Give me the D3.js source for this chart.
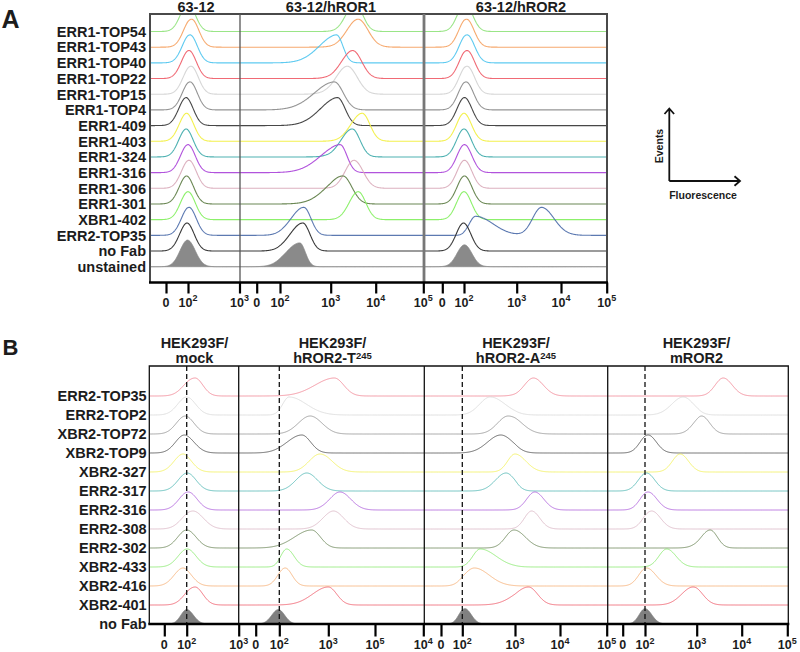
<!DOCTYPE html>
<html><head><meta charset="utf-8">
<script src="https://cdn.jsdelivr.net/npm/d3@7"></script>
<style>
body{margin:0;background:#fff}
svg{display:block}
text{font-family:"Liberation Sans",Arial,Helvetica,sans-serif;font-weight:bold;fill:#1c1c1c}
</style>
</head><body>
<svg id="chart" width="800" height="652"></svg>
<script>
// ---------------- DATA ----------------
const rowsA = ["ERR1-TOP54","ERR1-TOP43","ERR1-TOP40","ERR1-TOP22","ERR1-TOP15","ERR1-TOP4","ERR1-409","ERR1-403","ERR1-324","ERR1-316","ERR1-306","ERR1-301","XBR1-402","ERR2-TOP35","no Fab","unstained"];
const colorsA = ["#8fe27a","#f5a05e","#4cc4ee","#ee5a66","#d2d2d2","#8a8a8a","#333333","#f2ee3a","#3aa8a8","#a840d8","#d8a8b8","#5a7a40","#80ee5a","#4a6aa8","#222222","#8a8a8a"];
const titlesA = ["63-12","63-12/hROR1","63-12/hROR2"];

const rowsB = ["ERR2-TOP35","ERR2-TOP2","XBR2-TOP72","XBR2-TOP9","XBR2-327","ERR2-317","ERR2-316","ERR2-308","ERR2-302","XBR2-433","XBR2-416","XBR2-401","no Fab"];
const colorsB = ["#f07a8a","#d6d6d6","#8a8a8a","#3c3c3c","#f2f04a","#3fb0ac","#a64fd8","#d8b0c0","#5c7a45","#7ee860","#f6a868","#ee4a5a","#808080"];
const titlesB = [["HEK293F/","mock"],["HEK293F/","hROR2-T^245"],["HEK293F/","hROR2-A^245"],["HEK293F/","mROR2"]];

// tick values are log10 fluorescence ("0" is drawn half a decade below 10^2)
const tickU3 = [1.5,2,3];
const tickU5 = [1.5,2,3,4,5];
const tickLabels3 = ["0","10^2","10^3"];
const tickLabels5 = ["0","10^2","10^3","10^4","10^5"];
const tickLabelsB2 = ["0","10^2","10^3","10^5","10^4"];

// histogram peaks: [log10 centre, left spread, right spread, (relative height)]
const peaksA1 = [[2.00,0.17,0.14],[2.07,0.17,0.14],[2.04,0.17,0.14],[2.02,0.17,0.14],[2.06,0.17,0.14],[2.04,0.17,0.14],[1.96,0.17,0.14],[1.97,0.17,0.14],[1.96,0.17,0.14],[2.00,0.17,0.14],[2.02,0.17,0.14],[1.97,0.17,0.14],[2.00,0.17,0.14],[2.02,0.17,0.14],[1.98,0.17,0.14],[1.99,0.17,0.15,0.95]];
const peaksA2 = [[3.54,0.2,0.17],[3.61,0.25,0.22],[3.13,0.35,0.14],[3.49,0.25,0.2],[3.37,0.25,0.22],[3.08,0.4,0.2],[3.15,0.35,0.17],[3.70,0.25,0.17],[3.48,0.25,0.17],[3.21,0.4,0.15],[3.52,0.2,0.2],[3.27,0.35,0.2],[3.61,0.2,0.17],[2.47,0.25,0.14],[2.45,0.25,0.14],[2.39,0.27,0.11,0.85]];
const peaksA3 = [[2.02,0.17,0.14],[2.05,0.17,0.14],[2.06,0.17,0.14],[2.06,0.17,0.14],[2.06,0.17,0.14],[2.04,0.17,0.14],[2.01,0.17,0.14],[2.00,0.17,0.14],[2.00,0.17,0.14],[2.01,0.17,0.14],[2.01,0.17,0.14],[2.01,0.17,0.14],[2.00,0.17,0.14],[[2.22,0.12,0.33,0.68],[3.56,0.2,0.28,1]],[1.99,0.17,0.14],[2.01,0.17,0.14,0.78]];

const peaksB1 = [[2.16,0.22,0.15],[2.00,0.2,0.17],[1.97,0.2,0.17],[1.95,0.2,0.19],[1.92,0.2,0.17],[2.01,0.2,0.17],[2.03,0.2,0.17],[2.12,0.22,0.2],[2.00,0.2,0.18],[2.01,0.2,0.17],[1.92,0.2,0.17],[2.16,0.2,0.15],[2.00,0.13,0.13,0.8]];
const peaksB2 = [[3.13,0.4,0.2],[2.20,0.13,0.35],[2.63,0.24,0.24],[2.46,0.3,0.18],[2.83,0.22,0.25],[2.56,0.22,0.22],[3.25,0.22,0.23],[3.11,0.22,0.22],[2.66,0.35,0.18],[2.15,0.12,0.15],[2.12,0.15,0.14],[3.00,0.32,0.18],[1.98,0.14,0.13,0.8]];
const peaksB3 = [[3.41,0.2,0.22],[2.53,0.2,0.28],[2.87,0.2,0.28],[2.73,0.25,0.23],[3.00,0.14,0.24],[2.83,0.2,0.17],[3.44,0.18,0.2],[3.37,0.16,0.18],[2.98,0.16,0.25],[2.34,0.14,0.3],[2.23,0.2,0.28],[3.30,0.3,0.2],[2.05,0.13,0.12,0.85]];
const peaksB4 = [[3.59,0.18,0.2],[2.74,0.22,0.2],[3.11,0.17,0.18],[2.06,0.17,0.16],[2.68,0.15,0.16],[2.03,0.18,0.16],[2.06,0.17,0.17],[2.13,0.17,0.17],[3.30,0.2,0.16],[2.42,0.15,0.18],[2.03,0.17,0.18],[2.93,0.22,0.2],[2.00,0.13,0.13,0.85]];

// ---------------- LAYOUT ----------------
const svg = d3.select("#chart");
const defs = svg.append("defs");

const panelA = {
  top:14, bottom:282.5, rowTop:31.5, rowBottom:266.7, H:28, stroke:1.1, op:0.9,
  labelRight:146, tickLabelY:306.5, tickLen:11, titleY:11.7, dashed:false,
  rows:rowsA, colors:colorsA, filled:rowsA.length-1,
  subs:[
    {l:150,r:240,ticks:tickU3,px:[166,188,239.5],labels:tickLabels3,peaks:peaksA1,title:[titlesA[0]],tx:196},
    {l:240,r:424,ticks:tickU5,px:[256.7,280,330.7,375.7,423.3],labels:tickLabels5,peaks:peaksA2,title:[titlesA[1]],tx:331},
    {l:424,r:607,ticks:tickU5,px:[442.3,464,516.7,561,606.7],labels:tickLabels5,peaks:peaksA3,title:[titlesA[2]],tx:521}
  ]
};
const panelB = {
  top:366, bottom:624, rowTop:396, rowBottom:624, H:18, stroke:1.0, op:0.75,
  labelRight:146.7, tickLabelY:649, tickLen:12.5, titleY:347.5, dashed:true,
  rows:rowsB, colors:colorsB, filled:rowsB.length-1,
  subs:[
    {l:149.3,r:238.7,ticks:tickU3,px:[164.3,186.7,238.7],labels:tickLabels3,peaks:peaksB1,title:titlesB[0],tx:194.5},
    {l:238.7,r:424.3,ticks:tickU5,px:[255.7,279.3,328.3,375,423.3],labels:tickLabelsB2,peaks:peaksB2,title:titlesB[1],tx:332.5},
    {l:424.3,r:607.7,ticks:tickU5,px:[441,462.3,515,560,606.7],labels:tickLabels5,peaks:peaksB3,title:titlesB[2],tx:516},
    {l:607.7,r:788.3,ticks:tickU5,px:[622.7,645,696.7,741.7,787.3],labels:tickLabels5,peaks:peaksB4,title:titlesB[3],tx:696.5}
  ]
};

function comps(p){ return Array.isArray(p[0]) ? p : [p]; }
function density(u, p){
  return d3.sum(comps(p), c => {
    const s = u < c[0] ? c[1] : c[2];
    const h = c.length > 3 ? c[3] : 1;
    return h*Math.exp(-0.5*((u-c[0])/s)**2);
  });
}
// write "10^2" as 10 with a superscript
function richText(sel, str, supSize, supDy){
  const parts = str.split("^");
  sel.append("tspan").text(parts[0]);
  if(parts.length>1){
    sel.append("tspan").attr("font-size",supSize).attr("dy",supDy).text(parts[1]);
  }
}

let clipN = 0;
function drawPanel(P){
  const g = svg.append("g");
  const y = d3.scaleLinear().domain([0,P.rows.length-1]).range([P.rowTop,P.rowBottom]);

  g.selectAll("text.row").data(P.rows).join("text")
    .attr("x",P.labelRight).attr("y",(d,i)=>y(i)+5.3)
    .attr("text-anchor","end").attr("font-size",14.5).text(d=>d);

  P.subs.forEach(S=>{
    const x = d3.scaleLinear().domain(S.ticks).range(S.px);
    const id = "clip"+(clipN++);
    defs.append("clipPath").attr("id",id).append("rect")
      .attr("x",S.l).attr("y",P.top).attr("width",S.r-S.l).attr("height",P.bottom-P.top);
    const sg = g.append("g").attr("clip-path",`url(#${id})`);
    const u0 = x.invert(S.l), u1 = x.invert(S.r);
    const us = d3.range(u0, u1+0.01, 0.01);

    S.peaks.forEach((p,i)=>{
      const base = y(i);
      if(i===P.filled){
        const area = d3.area().x(u=>x(u)).y0(base).y1(u=>base-P.H*density(u,p));
        sg.append("path").attr("d",area(us)).attr("fill",P.colors[i]).attr("stroke",P.colors[i]).attr("stroke-width",0.8);
      } else {
        const line = d3.line().x(u=>x(u)).y(u=>base-P.H*density(u,p));
        sg.append("path").attr("d",line(us)).attr("fill","none")
          .attr("stroke",P.colors[i]).attr("stroke-width",P.stroke).attr("stroke-opacity",P.op)
          .attr("stroke-linejoin","round");
      }
    });

    if(P.dashed){
      g.append("line").attr("x1",x(2)).attr("x2",x(2)).attr("y1",P.top).attr("y2",P.bottom)
        .attr("stroke","#111").attr("stroke-width",1.3).attr("stroke-dasharray","5,3");
    }

    const ax = d3.axisBottom(x).tickValues(S.ticks).tickSize(P.tickLen).tickSizeOuter(0).tickFormat("");
    const ag = g.append("g").attr("transform",`translate(0,${P.bottom})`).call(ax);
    ag.select(".domain").remove();
    ag.selectAll(".tick line").attr("stroke","#000").attr("stroke-width",2.2);
    S.ticks.forEach((t,k)=>{
      const tx = g.append("text").attr("x",x(t)).attr("y",P.tickLabelY)
        .attr("text-anchor","middle").attr("font-size",12.5);
      richText(tx, S.labels[k], 9, -5.5);
    });

    S.title.forEach((line,k)=>{
      const tt = g.append("text").attr("x",S.tx).attr("y",P.titleY + k*15.4)
        .attr("text-anchor","middle").attr("font-size",14.5);
      richText(tt, line, 9.5, -3.8);
    });
  });
  return g;
}

const gA = drawPanel(panelA);
const gB = drawPanel(panelB);

// frames panel A
const A = panelA;
gA.append("path").attr("d",`M${A.subs[0].l},${A.bottom}V${A.top}H${A.subs[2].r}V${A.bottom}`)
  .attr("fill","none").attr("stroke","#4a4a4a").attr("stroke-width",2);
gA.append("line").attr("x1",240).attr("x2",240).attr("y1",A.top).attr("y2",A.bottom).attr("stroke","#555").attr("stroke-width",1.3);
gA.append("line").attr("x1",424).attr("x2",424).attr("y1",A.top).attr("y2",A.bottom).attr("stroke","#777").attr("stroke-width",2.8);
gA.append("line").attr("x1",A.subs[0].l-1).attr("x2",A.subs[2].r+1).attr("y1",A.bottom).attr("y2",A.bottom).attr("stroke","#000").attr("stroke-width",2.6);

// frames panel B
const B = panelB;
gB.append("path").attr("d",`M${B.subs[0].l},${B.bottom}V${B.top}H${B.subs[3].r}V${B.bottom}`)
  .attr("fill","none").attr("stroke","#111").attr("stroke-width",1.3);
B.subs.slice(1).forEach(S=>{
  gB.append("line").attr("x1",S.l).attr("x2",S.l).attr("y1",B.top).attr("y2",B.bottom).attr("stroke","#111").attr("stroke-width",1.3);
});
gB.append("line").attr("x1",B.subs[0].l-1).attr("x2",B.subs[3].r+1).attr("y1",B.bottom).attr("y2",B.bottom).attr("stroke","#000").attr("stroke-width",2.6);

// panel letters
svg.append("text").attr("x",1.5).attr("y",28).attr("font-size",25).text("A");
svg.append("text").attr("x",2.5).attr("y",355).attr("font-size",22).text("B");

// Events / Fluorescence inset
const ins = svg.append("g").attr("stroke","#111").attr("stroke-width",1.8).attr("fill","none");
ins.append("path").attr("d","M669.3,181V108.5M664.5,114L669.3,108.5L674.1,114");
ins.append("path").attr("d","M669.3,181H740M734.5,176.2L740,181L734.5,185.8");
svg.append("text").attr("transform","translate(662.5,146) rotate(-90)").attr("text-anchor","middle")
  .attr("font-size",10.5).text("Events");
svg.append("text").attr("x",703).attr("y",199).attr("text-anchor","middle").attr("font-size",10.5).text("Fluorescence");
</script>
</body></html>
